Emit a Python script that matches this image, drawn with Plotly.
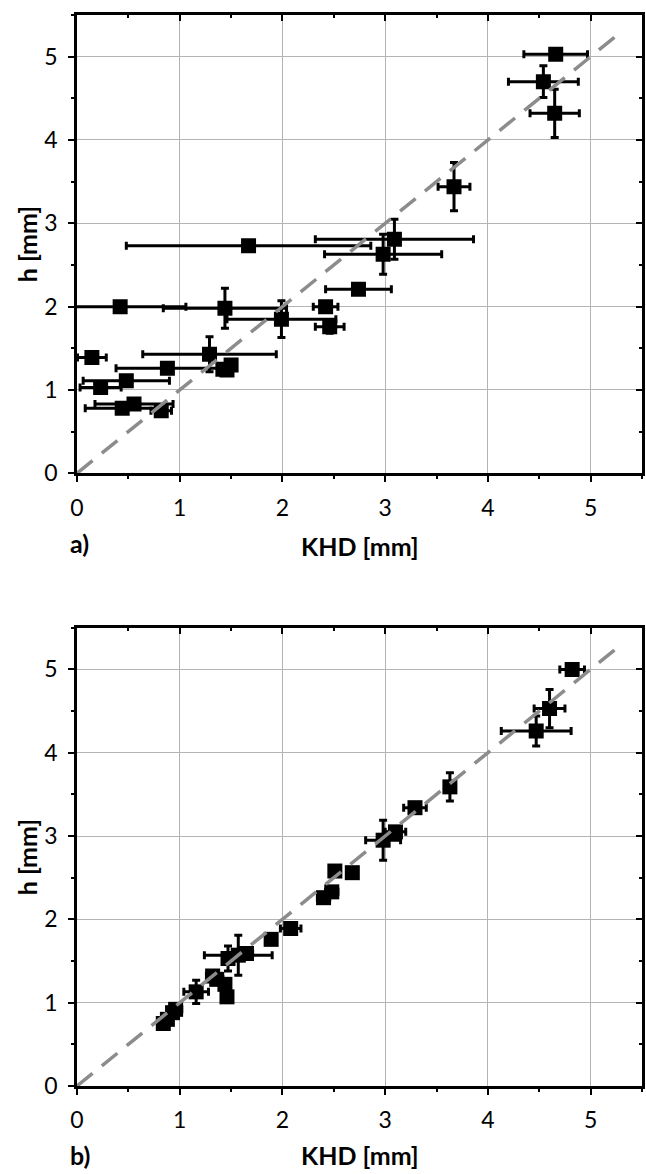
import plotly.graph_objects as go

# ---------------- data: panel a ----------------
a_khd = [4.66, 4.54, 4.65, 3.67, 3.09, 2.98, 1.67, 2.74, 0.42, 1.44, 1.99, 2.42, 2.46,
         1.29, 1.42, 1.50, 1.46, 0.88, 0.48, 0.23, 0.145, 0.44, 0.555, 0.82]
a_h = [5.03, 4.70, 4.32, 3.44, 2.81, 2.63, 2.73, 2.21, 2.00, 1.98, 1.85, 2.00, 1.76,
       1.43, 1.25, 1.30, 1.24, 1.26, 1.11, 1.03, 1.39, 0.78, 0.83, 0.75]
a_khd_err = [0.31, 0.34, 0.24, 0.155, 0.77, 0.57, 1.19, 0.32, 0.64, 0.60, 0.53, 0.12, 0.14,
             0.65, 0.05, 0.05, 0.05, 0.50, 0.42, 0.20, 0.14, 0.36, 0.38, 0.10]
a_h_err = [0.05, 0.19, 0.29, 0.29, 0.24, 0.24, 0.05, 0.05, 0.06, 0.24, 0.22, 0.06, 0.08,
           0.21, 0.05, 0.05, 0.05, 0.05, 0.05, 0.05, 0.05, 0.05, 0.05, 0.05]

# ---------------- data: panel b ----------------
b_khd = [0.84, 0.88, 0.96, 0.93, 1.16, 1.32, 1.36, 1.44, 1.46, 1.47, 1.57, 1.65, 1.89,
         2.08, 2.40, 2.48, 2.51, 2.68, 2.98, 3.10, 3.29, 3.63, 4.47, 4.60, 4.82]
b_h = [0.75, 0.80, 0.92, 0.88, 1.13, 1.32, 1.28, 1.22, 1.07, 1.53, 1.57, 1.59, 1.76,
       1.89, 2.26, 2.33, 2.58, 2.56, 2.95, 3.05, 3.34, 3.59, 4.26, 4.53, 5.00]
b_khd_err = [0.05, 0.05, 0.06, 0.05, 0.12, 0.06, 0.06, 0.05, 0.05, 0.05, 0.33, 0.06, 0.05,
             0.10, 0.06, 0.06, 0.05, 0.05, 0.17, 0.10, 0.11, 0.05, 0.34, 0.15, 0.12]
b_h_err = [0.05, 0.05, 0.05, 0.05, 0.14, 0.06, 0.06, 0.05, 0.06, 0.15, 0.24, 0.06, 0.06,
           0.05, 0.04, 0.05, 0.05, 0.05, 0.24, 0.06, 0.05, 0.17, 0.18, 0.23, 0.04]

# 1:1 reference line
ref_line = [0.0, 5.3]

tick_vals = [0, 1, 2, 3, 4, 5]
tick_text = ["0", "1", "2", "3", "4", "5"]

FONT = "Lato"

fig = go.Figure()


def add_panel(xs, ys, ex, ey, xa, ya):
    fig.add_trace(go.Scatter(
        x=xs, y=ys, mode="markers", xaxis=xa, yaxis=ya,
        marker=dict(symbol="square", size=15, color="black"),
        error_x=dict(type="data", array=ex, color="black", thickness=3, width=4),
        error_y=dict(type="data", array=ey, color="black", thickness=3, width=4),
        showlegend=False, cliponaxis=True))
    fig.add_trace(go.Scatter(
        x=ref_line, y=ref_line, mode="lines", xaxis=xa, yaxis=ya,
        line=dict(color="#8c8c8c", width=3.5, dash="20px,12px"),
        showlegend=False))


add_panel(a_khd, a_h, a_khd_err, a_h_err, "x", "y")
add_panel(b_khd, b_h, b_khd_err, b_h_err, "x2", "y2")

common = dict(range=[0, 5.5], tickvals=tick_vals, ticktext=tick_text,
              showline=True, linecolor="black", linewidth=2.5, mirror=True,
              ticks="outside", ticklen=6, tickwidth=2, tickcolor="black",
              minor=dict(dtick=0.5, ticks="outside", ticklen=3, tickwidth=2,
                         tickcolor="black", showgrid=False),
              showgrid=True, gridcolor="#b4b4b4", gridwidth=1,
              zeroline=False, ticklabelstandoff=6,
              tickfont=dict(family=FONT, size=23, color="black"))

mirror_common = dict(range=[0, 5.5], tickvals=tick_vals, showticklabels=False,
                     ticks="inside", ticklen=6, tickwidth=2, tickcolor="black",
                     minor=dict(dtick=0.5, ticks="inside", ticklen=3, tickwidth=2,
                                tickcolor="black", showgrid=False),
                     showgrid=False, zeroline=False, showline=False)

fig.update_layout(
    width=646, height=1174,
    margin=dict(l=77, r=1, t=15, b=88),
    paper_bgcolor="white", plot_bgcolor="white",
    xaxis=dict(domain=[0, 1], anchor="y", **common),
    yaxis=dict(domain=[0.5721, 1], anchor="x", **common),
    xaxis2=dict(domain=[0, 1], anchor="y2", **common),
    yaxis2=dict(domain=[0, 0.4279], anchor="x2", **common),
    xaxis3=dict(overlaying="x", side="top", anchor="y", **mirror_common),
    yaxis3=dict(overlaying="y", side="right", anchor="x", **mirror_common),
    xaxis4=dict(overlaying="x2", side="top", anchor="y2", **mirror_common),
    yaxis4=dict(overlaying="y2", side="right", anchor="x2", **mirror_common),
)

# invisible traces to activate mirror axes
for xa, ya in [("x3", "y3"), ("x4", "y4")]:
    fig.add_trace(go.Scatter(x=[None], y=[None], xaxis=xa, yaxis=ya,
                             showlegend=False, hoverinfo="skip"))

title_font = dict(family=FONT, size=25, color="black")


def px_x(p):
    return (p - 77) / 568.0


def px_y(p):
    return (1086 - p) / 1071.0


ann = [
    dict(text="<b>KHD [mm]</b>", x=px_x(361), y=px_y(546)),
    dict(text="<b>a)</b>", x=px_x(80), y=px_y(543)),
    dict(text="<b>h [mm]</b>", x=px_x(27), y=px_y(244), textangle=-90),
    dict(text="<b>KHD [mm]</b>", x=px_x(361), y=px_y(1155)),
    dict(text="<b>b)</b>", x=px_x(80), y=px_y(1155)),
    dict(text="<b>h [mm]</b>", x=px_x(27), y=px_y(857), textangle=-90),
]
for a in ann:
    fig.add_annotation(xref="paper", yref="paper", showarrow=False,
                       xanchor="center", yanchor="middle", font=title_font, **a)

fig.write_html("out.html")
